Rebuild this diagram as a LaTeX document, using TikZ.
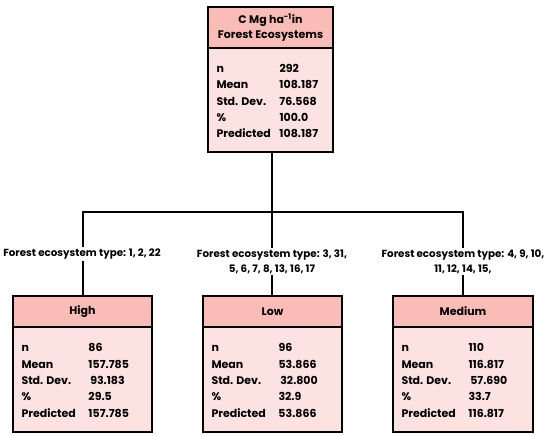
\documentclass[tikz,border=0pt]{standalone}
\usepackage{fontspec}
\setmainfont{Poppins}
\definecolor{headfill}{RGB}{250,188,182}
\definecolor{bodyfill}{RGB}{253,226,226}
\begin{document}
\begin{tikzpicture}[x=1pt,y=-1pt,
  headbox/.style={draw=black,line width=1.4pt,fill=headfill,minimum width=#1,inner sep=0pt,align=center,font=\fontsize{11}{14.5}\selectfont\bfseries},
  bodybox/.style={draw=black,line width=1.4pt,fill=bodyfill,minimum width=#1,inner sep=0pt},
  stats/.style={anchor=west,inner sep=0pt,align=left,font=\fontsize{11}{16.4}\selectfont\bfseries},
  conn/.style={line width=2pt},
  cond/.style={fill=white,inner sep=1.5pt,align=center,font=\fontsize{10.3}{15}\selectfont\bfseries}]
\useasboundingbox (0,0) rectangle (550,436);
% top box
\node[headbox=125pt,minimum height=41pt] (th) at (270.5,27.5) {C Mg ha\textsuperscript{-1}in\\Forest Ecosystems};
\node[bodybox=125pt,minimum height=104pt] (tb) at (270.5,100) {};
\node[stats] (tbt) at ([xshift=9pt,yshift=-1pt]tb.west) {\makebox[63pt][l]{n}292\\\makebox[63pt][l]{Mean}108.187\\\makebox[63pt][l]{Std. Dev.}76.568\\\makebox[63pt][l]{\%}100.0\\\makebox[63pt][l]{Predicted}108.187};
% children
\node[headbox=139pt,minimum height=31pt] (hh) at (82.5,311.5) {High};
\node[bodybox=139pt,minimum height=105pt] (hb) at (82.5,379.5) {};
\node[stats] (hbt) at ([xshift=9pt,yshift=-1pt]hb.west) {\makebox[67pt][l]{n}86\\\makebox[67pt][l]{Mean}157.785\\\makebox[67pt][l]{Std. Dev.}\,93.183\\\makebox[67pt][l]{\%}29.5\\\makebox[67pt][l]{Predicted}157.785};
\node[headbox=139pt,minimum height=31pt] (lh) at (272.5,311.5) {Low};
\node[bodybox=139pt,minimum height=105pt] (lb) at (272.5,379.5) {};
\node[stats] (lbt) at ([xshift=9pt,yshift=-1pt]lb.west) {\makebox[67pt][l]{n}96\\\makebox[67pt][l]{Mean}53.866\\\makebox[67pt][l]{Std. Dev.}\,32.800\\\makebox[67pt][l]{\%}32.9\\\makebox[67pt][l]{Predicted}53.866};
\node[headbox=140pt,minimum height=31pt] (mh) at (463,311.5) {Medium};
\node[bodybox=140pt,minimum height=105pt] (mb) at (463,379.5) {};
\node[stats] (mbt) at ([xshift=9pt,yshift=-1pt]mb.west) {\makebox[67pt][l]{n}110\\\makebox[67pt][l]{Mean}116.817\\\makebox[67pt][l]{Std. Dev.}\,57.690\\\makebox[67pt][l]{\%}33.7\\\makebox[67pt][l]{Predicted}116.817};
% connectors
\coordinate (jt) at (272,212);
\coordinate (jl) at (82.5,212);
\coordinate (jr) at (463,212);
\draw[conn] (tb.south -| jt) -- (jt);
\draw[conn,line cap=rect] (jl) -- (jr);
\draw[conn] (jl) -- (hh.north);
\draw[conn] (jt) -- (lh.north -| jt);
\draw[conn] (jr) -- (mh.north);
% conditions
\node[cond] (cl) at (82,254) {Forest ecosystem type: 1, 2, 22};
\node[cond] (cm) at (272,261.5) {Forest ecosystem type: 3, 31,\\5, 6, 7, 8, 13, 16, 17};
\node[cond] (cr) at (463,261.5) {Forest ecosystem type: 4, 9, 10,\\11, 12, 14, 15,};
\end{tikzpicture}
\end{document}
